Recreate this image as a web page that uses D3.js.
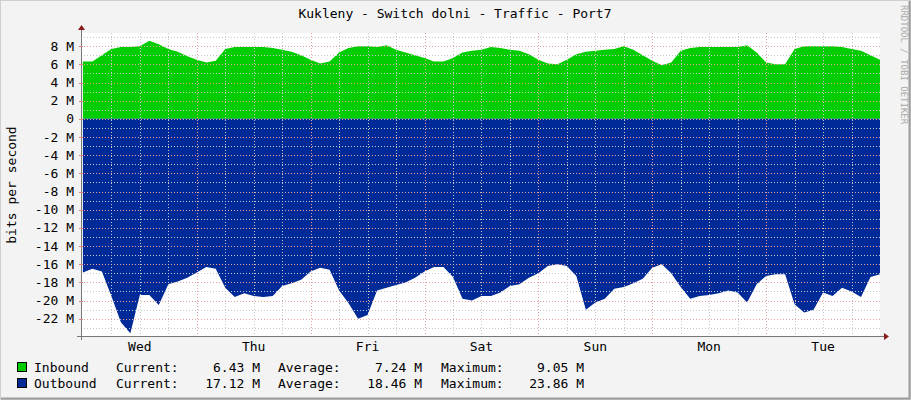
<!DOCTYPE html>
<html><head><meta charset="utf-8">
<script src="https://cdn.jsdelivr.net/npm/d3@7"></script>
<style>
  body { margin: 0; background: #f3f3f3; }
  text { font-family: "DejaVu Sans Mono", monospace; font-size: 13px; fill: #000; }
</style></head>
<body>
<script>
// hours from Wed 00:00, 2h steps
var hours = d3.range(0, 169, 2);
// Inbound, M bits/s
var inbound = [6.3,6.3,7.0,7.7,7.9,7.9,8.0,8.6,8.2,7.7,7.4,6.9,6.5,6.2,6.4,7.7,7.9,7.9,7.9,7.9,
  7.8,7.6,7.4,7.0,6.5,6.1,6.3,7.3,7.8,8.0,8.0,7.9,8.1,7.6,7.3,7.0,6.7,6.3,6.3,6.7,
  7.3,7.5,7.6,7.9,7.8,7.6,7.5,7.1,6.5,6.1,6.0,6.5,7.1,7.4,7.5,7.6,7.7,8.0,7.6,7.0,
  6.4,5.9,6.2,7.5,7.8,7.9,7.9,7.9,7.9,7.9,8.1,7.3,6.2,6.0,6.0,7.7,8.0,8.0,8.0,8.0,
  7.9,7.7,7.5,7.0,6.5];
// Outbound, M bits/s (drawn below zero)
var outbound = [16.9,16.5,16.8,19.5,22.4,23.6,19.4,19.4,20.5,18.2,17.9,17.5,16.9,16.3,16.5,18.6,19.6,19.2,19.5,19.6,
  19.5,18.4,18.1,17.7,16.8,16.4,16.6,18.9,20.3,22.0,21.6,18.9,18.6,18.3,18.0,17.5,16.8,16.3,16.3,17.4,
  19.8,20.0,19.5,19.5,19.1,18.4,18.2,17.5,17.0,16.2,16.0,16.2,17.3,21.0,20.2,19.8,18.7,18.5,18.1,17.6,
  16.4,16.0,17.0,18.5,19.8,19.5,19.4,19.2,18.9,19.1,20.2,18.2,17.3,17.1,17.1,20.4,21.3,21.0,19.1,19.5,
  18.6,19.0,19.6,17.4,17.1];
var days = ['Wed','Thu','Fri','Sat','Sun','Mon','Tue'];
var yTicks = [8,6,4,2,0,-2,-4,-6,-8,-10,-12,-14,-16,-18,-20,-22];
var legend = [
  {name:'Inbound', color:'#00cc00', cur:'6.43 M', avg:'7.24 M', max:'9.05 M'},
  {name:'Outbound', color:'#002a97', cur:'17.12 M', avg:'18.46 M', max:'23.86 M'}
];

var W = 911, H = 400, L = 81, R = 880, T = 33, B = 336;
var svg = d3.select('body').append('svg').attr('width', W).attr('height', H);
svg.append('rect').attr('x', 0.5).attr('y', 0.5).attr('width', W - 1).attr('height', H - 1)
  .attr('fill', '#f3f3f3').attr('stroke', '#cfcfcf');
svg.append('path').attr('d', 'M1,' + (H - 1.5) + 'H' + (W - 1.5) + 'V1')
  .attr('fill', 'none').attr('stroke', '#9c9c9c').attr('stroke-width', 2);

var x = d3.scaleLinear().domain([-0.4, 168]).range([L, R]);
var y = d3.scaleLinear().domain([-23.9, 9.45]).range([B, T]);

svg.append('rect').attr('x', L).attr('y', T).attr('width', R - L).attr('height', B - T).attr('fill', '#fff');

svg.append('path').datum(inbound).attr('fill', '#00cc00')
  .attr('d', d3.area().x(function(d, i) { return x(hours[i]); }).y0(y(0)).y1(function(d) { return y(d); }));
svg.append('path').datum(outbound).attr('fill', '#002a97')
  .attr('d', d3.area().x(function(d, i) { return x(hours[i]); }).y0(y(0)).y1(function(d) { return y(-d); }));

// grid
var g = svg.append('g').attr('fill', 'none').attr('stroke-width', 1).attr('stroke-dasharray', '1,2');
d3.range(-23, 10).forEach(function(v) {
  var major = v % 2 === 0;
  g.append('line').attr('x1', L).attr('x2', R).attr('y1', Math.round(y(v)) + 0.5).attr('y2', Math.round(y(v)) + 0.5)
    .attr('stroke', major ? '#e8a0a0' : '#c8c8c8');
});
d3.range(6, 168, 6).forEach(function(h) {
  var major = h % 24 === 0;
  g.append('line').attr('y1', T).attr('y2', B).attr('x1', Math.round(x(h)) + 0.5).attr('x2', Math.round(x(h)) + 0.5)
    .attr('stroke', major ? '#e8a0a0' : '#c8c8c8');
});

// axes
var ax = svg.append('g').attr('stroke', '#777');
ax.append('line').attr('x1', L - 4).attr('x2', R + 4).attr('y1', B + 0.5).attr('y2', B + 0.5);
ax.append('line').attr('x1', L + 0.5).attr('x2', L + 0.5).attr('y1', B + 4).attr('y2', T - 3);
svg.append('path').attr('d', 'M' + (R + 4) + ',' + (B - 3) + 'L' + (R + 9) + ',' + (B + 0.5) + 'L' + (R + 4) + ',' + (B + 4) + 'Z').attr('fill', '#8b1a1a');
svg.append('path').attr('d', 'M' + (L - 3) + ',' + (T - 3) + 'L' + (L + 0.5) + ',' + (T - 8) + 'L' + (L + 4) + ',' + (T - 3) + 'Z').attr('fill', '#8b1a1a');
yTicks.forEach(function(v) {
  svg.append('text').attr('x', 74).attr('y', y(v) + 4.5).attr('text-anchor', 'end').text(v === 0 ? '0' : v + ' M');
  ax.append('line').attr('x1', L - 2).attr('x2', L + 2).attr('y1', Math.round(y(v)) + 0.5).attr('y2', Math.round(y(v)) + 0.5).attr('stroke', '#e08080');
});
days.forEach(function(d, i) {
  svg.append('text').attr('x', x(12 + 24 * i)).attr('y', B + 15).attr('text-anchor', 'middle').text(d);
});

svg.append('text').attr('x', 455).attr('y', 18).attr('text-anchor', 'middle').text('Kukleny - Switch dolni - Traffic - Port7');
svg.append('text').attr('transform', 'translate(16,185) rotate(-90)').attr('text-anchor', 'middle').text('bits per second');
svg.append('text').attr('transform', 'translate(901,5) rotate(90)').style('font-size', '9px')
  .style('fill', '#aaa').text('RRDTOOL / TOBI OETIKER');

legend.forEach(function(s, i) {
  var ty = 372 + i * 16;
  svg.append('rect').attr('x', 17.5).attr('y', ty - 9.5).attr('width', 9).attr('height', 9).attr('fill', s.color).attr('stroke', '#000');
  svg.append('text').attr('x', 34).attr('y', ty).text(s.name);
  svg.append('text').attr('x', 116).attr('y', ty).text('Current:');
  svg.append('text').attr('x', 260).attr('y', ty).attr('text-anchor', 'end').text(s.cur);
  svg.append('text').attr('x', 278).attr('y', ty).text('Average:');
  svg.append('text').attr('x', 422).attr('y', ty).attr('text-anchor', 'end').text(s.avg);
  svg.append('text').attr('x', 441).attr('y', ty).text('Maximum:');
  svg.append('text').attr('x', 584).attr('y', ty).attr('text-anchor', 'end').text(s.max);
});
</script>
</body></html>
